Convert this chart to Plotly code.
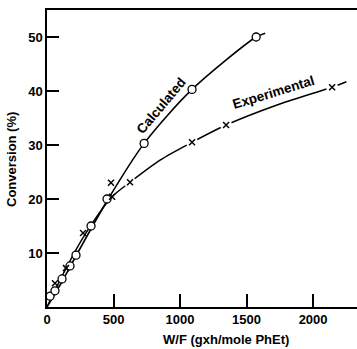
import plotly.graph_objects as go

# Calculated points (circles)
calc_x = [23, 60, 113, 173, 218, 331, 451, 730, 1090, 1572]
calc_y = [2.0, 3.0, 5.2, 7.6, 9.6, 15.0, 20.0, 30.3, 40.3, 50.0]
# Calculated curve as traced on the picture
calc_line_x = [0, 120, 230, 460, 730, 1090, 1572, 1640]
calc_line_y = [0, 5.0, 10.0, 20.0, 30.3, 40.3, 50.0, 50.7]

# Experimental points (crosses)
exp_x = [60, 143, 271, 481, 489, 624, 1090, 1346, 2143]
exp_y = [4.4, 7.2, 13.7, 23.0, 20.4, 23.1, 30.5, 33.7, 40.7]
# Experimental curve as traced on the picture
exp_line_x = [0, 140, 270, 489, 624, 850, 1090, 1346, 1750, 2143, 2250]
exp_line_y = [0, 7.0, 12.8, 20.4, 23.1, 27.2, 30.5, 33.7, 37.6, 40.7, 41.7]
# crosses on the dashed part, where the line is broken
gap_x = [624, 1090, 1346, 2143]
gap_y = [23.1, 30.5, 33.7, 40.7]

x_ticks = [0, 500, 1000, 1500, 2000]
y_ticks = [10, 20, 30, 40, 50]

font = "Liberation Sans"

fig = go.Figure()
fig.add_trace(go.Scatter(x=exp_line_x, y=exp_line_y, mode="lines",
                         line=dict(color="black", width=1.5, shape="spline", smoothing=0.8),
                         hoverinfo="skip"))
fig.add_trace(go.Scatter(x=gap_x, y=gap_y, mode="markers",
                         marker=dict(symbol="circle", size=12, color="white", line=dict(width=0)),
                         hoverinfo="skip"))
fig.add_trace(go.Scatter(x=calc_line_x, y=calc_line_y, mode="lines",
                         line=dict(color="black", width=1.6, shape="spline", smoothing=0.8),
                         hoverinfo="skip"))
fig.add_trace(go.Scatter(x=calc_x, y=calc_y, mode="markers",
                         marker=dict(symbol="circle", size=8, color="white",
                                     line=dict(color="black", width=1.3))))
fig.add_trace(go.Scatter(x=exp_x, y=exp_y, mode="markers",
                         marker=dict(symbol="x-thin", size=6,
                                     line=dict(color="black", width=1.5))))

fig.add_annotation(x=860, y=37.3, text="<b>Calculated</b>", showarrow=False,
                   textangle=-50, font=dict(family=font, size=13.5, color="black"))
fig.add_annotation(x=1700, y=39.8, text="<b>Experimental</b>", showarrow=False,
                   textangle=-17, font=dict(family=font, size=13.5, color="black"))

fig.add_annotation(xref="paper", yref="paper", x=(226 - 47) / 310, y=(307 - 339) / 297,
                   text="<b>W/F (gxh/mole PhEt)</b>", showarrow=False,
                   xanchor="center", yanchor="middle",
                   font=dict(family=font, size=13, color="black"))
fig.add_annotation(xref="paper", yref="paper", x=(12 - 47) / 310, y=(307 - 160) / 297,
                   text="<b>Conversion (%)</b>", showarrow=False, textangle=-90,
                   xanchor="center", yanchor="middle",
                   font=dict(family=font, size=13, color="black"))

fig.update_layout(
    width=357, height=349,
    margin=dict(l=47, r=0, t=10, b=42),
    paper_bgcolor="white", plot_bgcolor="white",
    showlegend=False,
    xaxis=dict(range=[0, 2330], tickvals=x_ticks, ticktext=[f"<b>{v}</b>" for v in x_ticks],
               ticks="inside", ticklen=13, tickwidth=1.5, tickcolor="black",
               showline=True, linecolor="black", linewidth=1.5, mirror=True,
               showgrid=False, zeroline=False,
               tickfont=dict(family=font, size=13, color="black")),
    yaxis=dict(range=[0, 55], tickvals=y_ticks, ticktext=[f"<b>{v}</b>" for v in y_ticks],
               ticks="inside", ticklen=12, tickwidth=1.5, tickcolor="black",
               showline=True, linecolor="black", linewidth=1.5,
               showgrid=False, zeroline=False,
               tickfont=dict(family=font, size=13, color="black")),
)

fig.write_html("out.html")
